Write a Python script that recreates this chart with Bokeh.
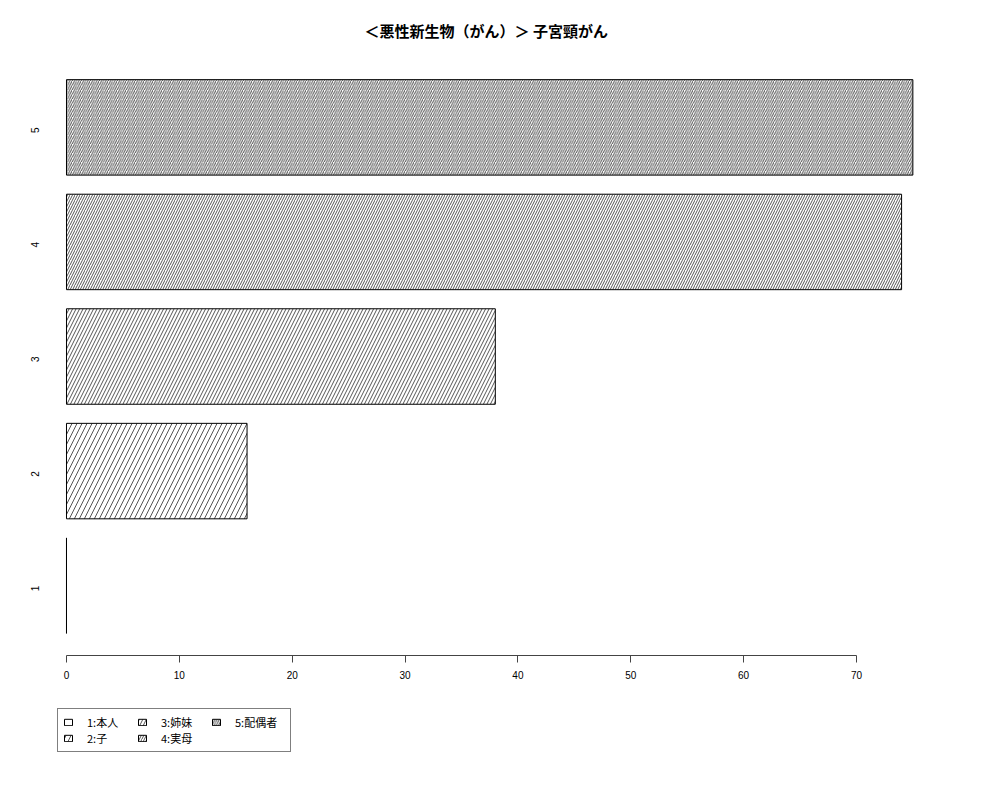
from math import pi
from bokeh.plotting import figure
from bokeh.models import ColumnDataSource, FixedTicker, Legend, LegendItem
from bokeh.embed import file_html
from bokeh.resources import INLINE

# データ
groups = ["1", "2", "3", "4", "5"]
values = [0, 16, 38, 74, 75]
labels = ["1:本人", "2:子", "3:姉妹", "4:実母", "5:配偶者"]
x_ticks = [0, 10, 20, 30, 40, 50, 60, 70]

# ハッチの密度 (1本目は塗りなし)
patterns = [" ", "/", "/", "/", "/"]
scales = [1, 10, 7, 5, 4.5]

ypos = [i + 1 for i in range(len(groups))]
source = ColumnDataSource(data=dict(y=ypos, value=values, label=labels,
                                    pattern=patterns, scale=scales))

# 下側に凡例のための余白を取る
y_axis_at = 0.39
p = figure(width=984, height=784, output_backend="svg", toolbar_location=None,
           tools="", x_range=(-1.595, 77.36), y_range=(-0.4826, 5.61),
           min_border_left=48, min_border_right=45, min_border_top=57,
           min_border_bottom=29)

p.title.text = "＜悪性新生物（がん）＞ 子宮頸がん"
p.title.align = "left"
p.title.offset = 316
p.title.text_font = "Noto Sans CJK JP"
p.title.text_font_size = "15px"
p.title.text_font_style = "bold"
p.title.text_color = "black"
p.title.standoff = 33

r = p.hbar(y="y", left=0, right="value", height=1 / 1.2, source=source,
           fill_color="white", line_color="black", line_width=1,
           hatch_pattern="pattern", hatch_scale="scale", hatch_color="#555555",
           hatch_weight=1)

# 軸
p.xaxis.fixed_location = y_axis_at
p.xaxis.ticker = FixedTicker(ticks=x_ticks)
p.xaxis.bounds = (0, 70)
p.xaxis.minor_tick_line_color = None
p.xaxis.major_tick_out = 7
p.xaxis.major_tick_in = 0
p.xaxis.major_label_standoff = 8
p.xaxis.major_label_text_font = "Liberation Sans"
p.xaxis.major_label_text_font_size = "10px"
p.xaxis.major_label_text_color = "black"
p.xaxis.axis_line_color = "#444444"
p.xaxis.major_tick_line_color = "#444444"

p.yaxis.ticker = FixedTicker(ticks=ypos)
p.yaxis.major_label_overrides = {y: g for y, g in zip(ypos, groups)}
p.yaxis.axis_line_color = None
p.yaxis.major_tick_line_color = None
p.yaxis.minor_tick_line_color = None
p.yaxis.major_label_orientation = pi / 2
p.yaxis.major_label_standoff = 7
p.yaxis.major_label_text_font = "Liberation Sans"
p.yaxis.major_label_text_font_size = "10px"
p.yaxis.major_label_text_color = "black"

p.grid.grid_line_color = None
p.outline_line_color = None

# 凡例
items = [LegendItem(label=lab, renderers=[r], index=i) for i, lab in enumerate(labels)]
legend = Legend(items=items, location=(9, 3), orientation="vertical", nrows=2,
                label_text_font="Noto Sans CJK JP", label_text_font_size="11px",
                label_text_color="black", label_text_line_height=1.0,
                glyph_width=10, glyph_height=8, label_height=12, label_standoff=14,
                label_width=50, spacing=-3, padding=5, margin=0,
                border_line_color="black", border_line_width=1)
p.add_layout(legend, "center")

open("out.html", "w").write(file_html(p, INLINE))
